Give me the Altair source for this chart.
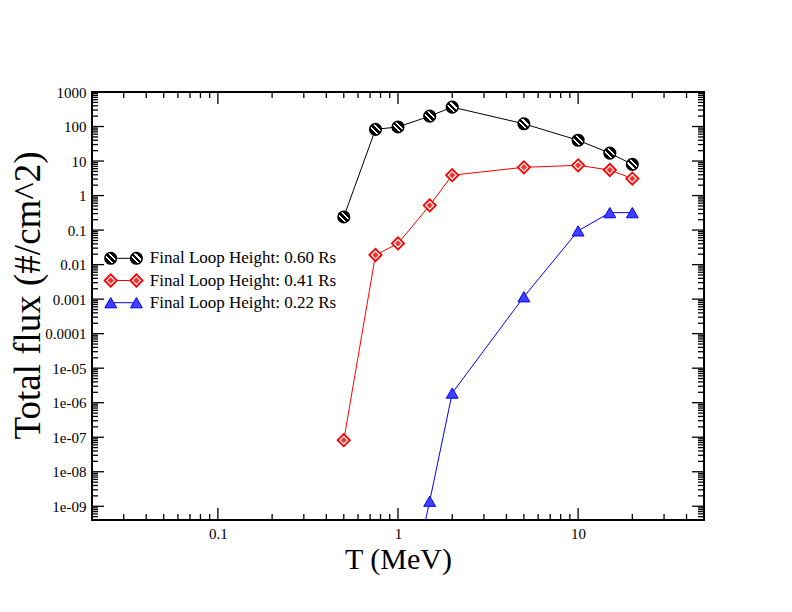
import altair as alt
import pandas as pd

# ---------------- data ----------------
SERIES = ["Final Loop Height: 0.60 Rs", "Final Loop Height: 0.41 Rs", "Final Loop Height: 0.22 Rs"]
COLORS = ["black", "red", "blue"]

T_060 = [0.5, 0.75, 1, 1.5, 2, 5, 10, 15, 20]
F_060 = [0.24, 83, 97, 200, 365, 120, 40, 17, 8.0]

T_041 = [0.5, 0.75, 1, 1.5, 2, 5, 10, 15, 20]
F_041 = [8.2e-8, 0.019, 0.041, 0.52, 3.9, 6.6, 7.5, 5.5, 3.1]

T_022 = [1, 1.5, 2, 5, 10, 15, 20]
F_022 = [1e-13, 1.4e-9, 1.9e-6, 0.00117, 0.095, 0.32, 0.32]

X_MAJOR = [0.1, 1, 10]
X_MINOR = [0.03, 0.04, 0.05, 0.06, 0.07, 0.08, 0.09,
           0.2, 0.3, 0.4, 0.5, 0.6, 0.7, 0.8, 0.9,
           2, 3, 4, 5, 6, 7, 8, 9, 20, 30, 40]
Y_MAJOR = [1e-9, 1e-8, 1e-7, 1e-6, 1e-5, 1e-4, 1e-3, 0.01, 0.1, 1, 10, 100, 1000]
Y_MINOR = [k * d for d in [1e-10] + Y_MAJOR[:-1] for k in range(2, 10) if k * d > 4e-10]

W, H = 612, 428
FONT = "Liberation Serif"

frames = []
for name, t, f in [(SERIES[0], T_060, F_060), (SERIES[1], T_041, F_041), (SERIES[2], T_022, F_022)]:
    frames.append(pd.DataFrame({"T": t, "flux": f, "series": name}))
df = pd.concat(frames, ignore_index=True)

xscale = alt.Scale(type="log", domain=[0.02, 50], nice=False)
yscale = alt.Scale(type="log", domain=[4e-10, 1000], nice=False)

xaxis = alt.Axis(values=X_MAJOR, format="~g", ticks=False, domain=False, grid=False,
                 labelFont=FONT, labelFontSize=15, labelColor="black", labelPadding=6,
                 title="T (MeV)", titleFont=FONT, titleFontSize=30, titleFontWeight="normal",
                 titleColor="black", titleY=48, titleBaseline="alphabetic")
yaxis = alt.Axis(values=Y_MAJOR,
                 labelExpr="datum.value >= 0.0001 ? format(datum.value, '~g') : replace(format(datum.value, '.0e'), 'e-', 'e-0')",
                 ticks=False, domain=False, grid=False,
                 labelFont=FONT, labelFontSize=15, labelColor="black", labelPadding=6,
                 title="Total flux (#/cm^2)", titleFont=FONT, titleFontSize=37, titleFontWeight="normal",
                 titleColor="black", titleX=-64, titleY=203, titleBaseline="middle", titleAngle=270)

lines = alt.Chart(df).mark_line(strokeWidth=1, clip=True).encode(
    x=alt.X("T:Q", scale=xscale, axis=xaxis),
    y=alt.Y("flux:Q", scale=yscale, axis=yaxis),
    color=alt.Color("series:N", scale=alt.Scale(domain=SERIES, range=COLORS), legend=None),
    order=alt.Order("T:Q"),
)

stripes = alt.LinearGradient(
    gradient="linear", x1=0, y1=1, x2=1, y2=0,
    stops=[
        alt.GradientStop(color="black", offset=0),
        alt.GradientStop(color="black", offset=0.33),
        alt.GradientStop(color="white", offset=0.33),
        alt.GradientStop(color="white", offset=0.42),
        alt.GradientStop(color="black", offset=0.42),
        alt.GradientStop(color="black", offset=0.58),
        alt.GradientStop(color="white", offset=0.58),
        alt.GradientStop(color="white", offset=0.67),
        alt.GradientStop(color="black", offset=0.67),
        alt.GradientStop(color="black", offset=1),
    ],
)


def marker_marks(i):
    if i == 0:
        return [dict(shape="circle", filled=True, fill=stripes, stroke="black", strokeWidth=1.5, size=135, opacity=1)]
    if i == 1:
        return [dict(shape="diamond", filled=True, fill="white", stroke="red", strokeWidth=1.8, size=150, opacity=1),
                dict(shape="diamond", filled=True, fill="#ff3030", strokeWidth=0, size=40, opacity=1)]
    return [dict(shape="triangle-up", filled=True, fill="#4040ff", stroke="blue", strokeWidth=1, size=140, opacity=1)]


points = []
for i, name in enumerate(SERIES):
    sub = df[df["series"] == name]
    for m in marker_marks(i):
        points.append(alt.Chart(sub).mark_point(clip=True, **m).encode(
            x=alt.X("T:Q", scale=xscale, axis=xaxis),
            y=alt.Y("flux:Q", scale=yscale, axis=yaxis),
        ))

# ---------------- inward ticks on all four sides ----------------
def vticks(vals, length, top):
    y0, y1 = (0, length) if top else (H, H - length)
    return alt.Chart(pd.DataFrame({"v": vals})).mark_rule(color="black", strokeWidth=1.3).encode(
        x=alt.X("v:Q", scale=xscale, axis=xaxis), y=alt.value(y0), y2=alt.value(y1))


def hticks(vals, length, left):
    x0, x1 = (0, length) if left else (W, W - length)
    return alt.Chart(pd.DataFrame({"v": vals})).mark_rule(color="black", strokeWidth=1.3).encode(
        y=alt.Y("v:Q", scale=yscale, axis=yaxis), x=alt.value(x0), x2=alt.value(x1))


ticks = [vticks(X_MAJOR, 12, False), vticks(X_MAJOR, 12, True),
         vticks(X_MINOR, 6, False), vticks(X_MINOR, 6, True),
         hticks(Y_MAJOR, 12, True), hticks(Y_MAJOR, 12, False),
         hticks(Y_MINOR, 6, True), hticks(Y_MINOR, 6, False)]

# ---------------- legend (inside plot, upper left) ----------------
LEG_Y = [166.3, 188.5, 210.7]
LEG_X1, LEG_X2, LEG_TX = 18.7, 44.4, 57.7
legend = []
for i, name in enumerate(SERIES):
    ldf = pd.DataFrame({"s": [name]})
    legend.append(alt.Chart(ldf).mark_rule(color=COLORS[i], strokeWidth=1).encode(
        x=alt.value(LEG_X1), x2=alt.value(LEG_X2), y=alt.value(LEG_Y[i])))
    for xp in (LEG_X1, LEG_X2):
        for m in marker_marks(i):
            legend.append(alt.Chart(ldf).mark_point(**m).encode(x=alt.value(xp), y=alt.value(LEG_Y[i])))
    legend.append(alt.Chart(ldf).mark_text(align="left", baseline="middle", font=FONT, fontSize=17,
                                           color="black").encode(
        x=alt.value(LEG_TX), y=alt.value(LEG_Y[i]), text="s:N"))

chart = alt.layer(lines, *points, *ticks, *legend).properties(
    width=W, height=H,
    autosize=alt.AutoSizeParams(type="none"),
    padding={"left": 84, "top": 84, "right": 80, "bottom": 84},
    background="white",
).configure_view(stroke="black", strokeWidth=2)

chart.save("out.html", embed_options={"renderer": "svg", "actions": False})
